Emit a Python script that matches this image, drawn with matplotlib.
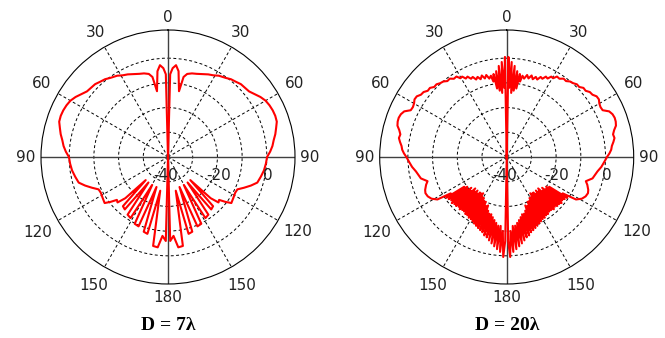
import numpy as np
import matplotlib.pyplot as plt

# Far-field patterns in dB, one half (0..180 deg from boresight);
# the other half is the mirror image.
ang_7 = [0, 1.5, 3, 5, 7, 9.5, 11, 13, 16, 19,
         22, 26, 29, 32, 36, 39, 42, 45, 48, 51,
         54, 57, 60, 63, 66, 69, 72, 75, 78, 81,
         84, 87, 90, 94, 98, 102, 106, 109, 112, 115,
         118, 122, 126, 128, 130, 132, 134, 136, 137.5, 140.5,
         142.5, 145, 148.5, 150.5, 153.5, 157, 159, 162, 165, 167,
         170.5, 173.5, 176, 178.5, 180]
db_7 = [-40, -6.5, -4, -2.7, -5, -13, -7, -5.5, -4.8, -4.4,
        -3.8, -2.8, -2.2, -1.2, -0.4, 0.5, 1.0, 1.7, 1.9, 2.2,
        3.3, 4.6, 5.6, 6.1, 6.4, 6.5, 6.3, 5.3, 4.4, 3.3,
        2.5, 1.4, 0.1, -0.3, -0.8, -1.6, -2.4, -4.5, -6.8, -9,
        -9.2, -8.8, -8.3, -10.5, -13, -12.5, -16, -27, -13, -12.5,
        -27, -11.5, -11, -27, -9.8, -9.5, -27, -8.2, -7.8, -26,
        -3.5, -3.2, -8, -6, -40]

ang_20 = [0, 1, 2, 3, 4, 5, 6, 7, 8, 9,
          10, 11, 12.5, 14, 15.5, 17, 18.5, 20, 21.5, 23,
          24.5, 26, 27.5, 29, 30.5, 32, 34, 36, 38, 40,
          42, 44, 46, 48, 50, 52, 54, 56, 58, 60,
          62, 64, 66, 68, 70, 72, 74, 76, 78, 80,
          82, 84, 86, 88, 90, 93, 96, 99, 101, 104,
          107, 109, 112, 114, 116.5, 119, 121.5,
          123, 124, 125, 126, 127, 128, 129, 130, 131, 132,
          133, 134, 135, 136, 137, 138, 139, 140, 141, 142,
          143, 144, 145, 146, 147, 148, 149, 150, 151, 152,
          153, 154, 155, 156, 157, 158, 159, 160, 161, 162,
          163, 164, 165, 166, 167, 168, 169, 170, 171, 172,
          173, 174, 175, 176, 177, 178, 179, 180]
db_20 = [-40, 0.5, -12, -1.5, -14, -3, -13, -5, -12, -6,
         -9, -6.5, -7.5, -5.8, -7, -5.5, -6.8, -5.5, -6.3, -4.8,
         -5.2, -3.8, -4.2, -2.8, -3.0, -1.6, -1.8, -0.8, -1.0, -0.1,
         0.2, 0.9, 0.8, 1.8, 1.7, 2.7, 2.9, 3.9, 4.0, 3.3,
         3.0, 3.2, 5.4, 6.2, 6.5, 6.4, 6.0, 4.8, 4.0, 4.3,
         3.6, 2.8, 2.4, 1.6, 0.6, -0.5, -1.5, -2.8, -3.4, -4.2,
         -6.5, -5.5, -4.4, -4.0, -4.3, -5.2, -7.1,
         -13, -10.5, -19, -11, -20, -11.5, -19.5, -11, -21, -11.5,
         -20, -11.5, -22, -12, -21, -11.5, -22, -12, -21, -12,
         -22, -11.5, -22, -11.5, -22.5, -11, -21, -11, -21, -10.5,
         -20, -10, -20, -9.5, -18.5, -9, -19, -8.5, -17, -8,
         -16, -7, -16, -6.5, -15, -5.5, -14, -4.5, -13, -3.5,
         -12, -2.5, -12, -1.5, -10, 0.5, -6, -40]

panels = [("D = 7\u03bb", ang_7, db_7), ("D = 20\u03bb", ang_20, db_20)]

R_MIN, R_MAX = -40, 11.4
R_PX = 127.0  # outer circle radius in pixels

plt.rcParams['font.family'] = 'DejaVu Sans'

fig = plt.figure(figsize=(6.65, 3.38), dpi=100)
W, H = 665, 338
centers = [(168, 157), (506.7, 157)]


def px_to_r(px):
    return R_MIN + px / R_PX * (R_MAX - R_MIN)


def full_curve(ang, db):
    ang = list(ang)
    db = list(db)
    theta = ang + [360 - a for a in reversed(ang[:-1])]
    vals = db + list(reversed(db[:-1]))
    return np.deg2rad(theta), np.array(vals)


# label centre radius (px) for the angle labels
lab_px = {0: 139, 30: 144, 60: 146, 90: 142, 120: 150, 150: 148, 180: 141}

for (title, ang, db), (cx, cy) in zip(panels, centers):
    rect = [(cx - R_PX) / W, (H - cy - R_PX) / H, 2 * R_PX / W, 2 * R_PX / H]
    ax = fig.add_axes(rect, projection='polar')
    ax.set_theta_zero_location('N')
    ax.set_theta_direction(-1)
    ax.set_rlim(R_MIN, R_MAX)
    ax.set_rgrids([-30, -20, -10, 0], labels=[''] * 4)
    ax.set_thetagrids([30, 60, 120, 150, 210, 240, 300, 330], labels=[''] * 8)
    ax.grid(True, color='black', linestyle=(0, (3, 2.5)), linewidth=0.7)
    ax.spines['polar'].set_linewidth(0.8)
    ax.tick_params(length=0, pad=0)

    # solid axis lines through the centre
    for a in [0, 90, 180, 270]:
        ax.plot([np.deg2rad(a)] * 2, [R_MIN, R_MAX], color='#404040', lw=1.0, zorder=2)

    th, r = full_curve(ang, db)
    ax.plot(th, r, color='red', lw=1.5, zorder=3)

    # angle labels
    for a, px in lab_px.items():
        for s in ([a] if a in (0, 180) else [a, 360 - a]):
            ax.text(np.deg2rad(s), px_to_r(px), str(a), ha='center', va='center',
                    fontsize=11, color='#222222', clip_on=False)

    # radial labels under the right half of the horizontal axis
    for v in [-40, -20, 0]:
        ax.annotate(str(v), xy=(np.deg2rad(90), v), xytext=(-2 if v == -40 else 1, -19),
                    textcoords='offset pixels', ha='center', va='center',
                    fontsize=11, color='#222222', annotation_clip=False)

    fig.text(cx / W, 1 - 325 / H, title, ha='center', va='center',
             family='Liberation Serif', fontweight='bold', fontsize=14)

fig.savefig('out.png', dpi=100)
